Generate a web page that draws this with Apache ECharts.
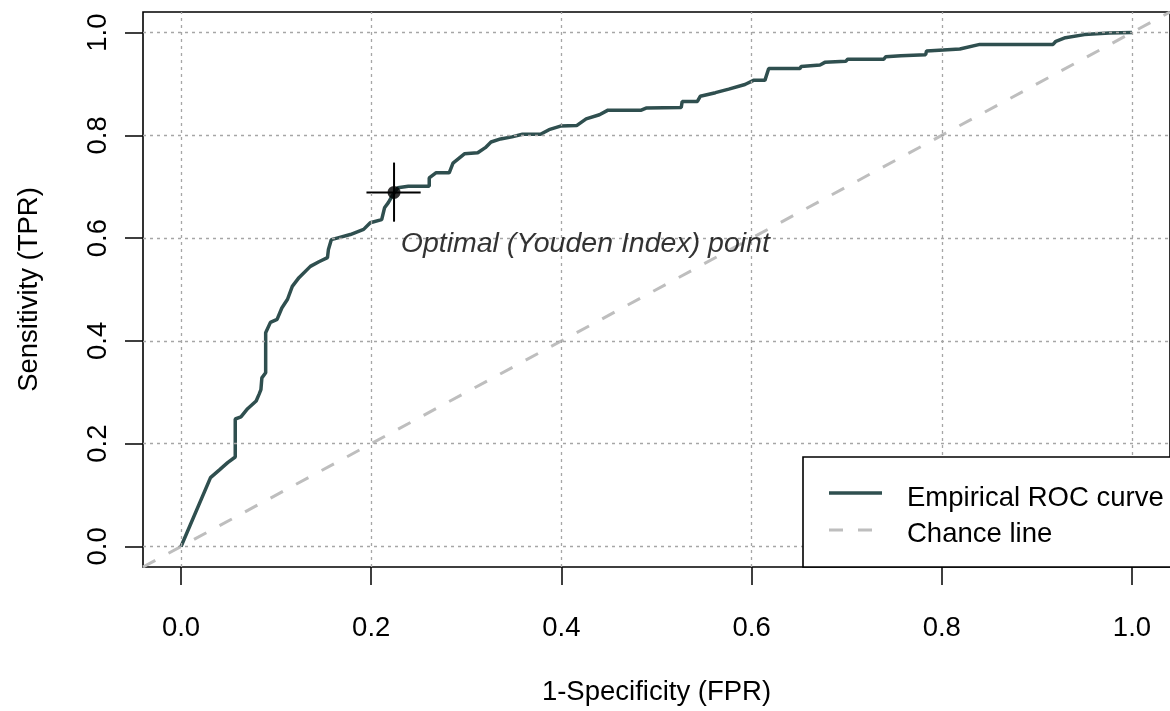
<!DOCTYPE html>
<html><head><meta charset="utf-8">
<script src="https://cdn.jsdelivr.net/npm/echarts@6/dist/echarts.min.js"></script>
<style>html,body{margin:0;padding:0;background:#fff}#c{width:1170px;height:711px}</style>
</head><body><div id="c"></div>
<script>
// ---- data ----
const fpr = [0, 0.031, 0.041, 0.049, 0.057, 0.057, 0.063, 0.070, 0.079, 0.082, 0.084, 0.085, 0.089, 0.089, 0.094, 0.101, 0.106, 0.112, 0.117, 0.124, 0.136, 0.145, 0.154, 0.155, 0.158, 0.166, 0.178, 0.192, 0.199, 0.211, 0.214, 0.218, 0.223, 0.228, 0.239, 0.261, 0.261, 0.268, 0.282, 0.286, 0.298, 0.312, 0.320, 0.326, 0.336, 0.348, 0.359, 0.378, 0.387, 0.399, 0.416, 0.426, 0.440, 0.449, 0.484, 0.489, 0.526, 0.527, 0.543, 0.546, 0.562, 0.576, 0.593, 0.602, 0.614, 0.618, 0.651, 0.652, 0.672, 0.677, 0.699, 0.701, 0.739, 0.741, 0.757, 0.783, 0.784, 0.819, 0.840, 0.917, 0.920, 0.930, 0.950, 0.976, 1.0];
const tpr = [0, 0.134, 0.150, 0.163, 0.174, 0.248, 0.252, 0.268, 0.283, 0.296, 0.305, 0.328, 0.338, 0.416, 0.436, 0.442, 0.464, 0.481, 0.506, 0.523, 0.545, 0.554, 0.562, 0.578, 0.597, 0.601, 0.607, 0.617, 0.630, 0.636, 0.659, 0.669, 0.685, 0.698, 0.701, 0.701, 0.717, 0.727, 0.727, 0.746, 0.764, 0.766, 0.776, 0.787, 0.793, 0.797, 0.802, 0.802, 0.811, 0.818, 0.819, 0.832, 0.840, 0.849, 0.849, 0.853, 0.854, 0.866, 0.866, 0.876, 0.883, 0.890, 0.899, 0.907, 0.907, 0.930, 0.930, 0.934, 0.937, 0.942, 0.944, 0.948, 0.948, 0.953, 0.955, 0.957, 0.964, 0.968, 0.977, 0.977, 0.983, 0.990, 0.996, 0.999, 1.0];
const tickValues = [0, 0.2, 0.4, 0.6, 0.8, 1.0];
const axisMin = -0.04;
const axisMax = 1.04;
const chanceLine = [[-0.04, -0.04], [1.04, 1.04]];
const optimalPoint = [0.224, 0.689];
const optimalFprBar = [0.195, 0.252];
const optimalTprBar = [0.632, 0.747];
const annotationAnchor = [0.2305, 0.589];
const annotationText = 'Optimal (Youden Index) point';
const xTitle = '1-Specificity (FPR)';
const yTitle = 'Sensitivity (TPR)';
const legendNames = ['Empirical ROC curve', 'Chance line'];

// ---- chart ----
const FONT = 'Liberation Sans, Arial, sans-serif';
const FS = 27.5;
const rocData = fpr.map((v, i) => [v, tpr[i]]);
const chart = echarts.init(document.getElementById('c'), null, {renderer: 'canvas'});

const gridMarks = tickValues.map(v => ({xAxis: v})).concat(tickValues.map(v => ({yAxis: v})));

chart.setOption({
  animation: false,
  backgroundColor: '#fff',
  grid: {left: 143, top: 12, right: -8, bottom: 144, show: true, borderColor: '#000', borderWidth: 1.6, backgroundColor: 'transparent'},
  xAxis: {
    type: 'value', min: axisMin, max: axisMax,
    axisLine: {show: false, onZero: false},
    axisTick: {show: true, inside: false, customValues: tickValues, length: 18, lineStyle: {color: '#000', width: 1.5}},
    axisLabel: {customValues: tickValues, formatter: v => v.toFixed(1), fontSize: FS, color: '#000', fontFamily: FONT, margin: 47},
    splitLine: {show: false},
    name: xTitle, nameLocation: 'middle', nameGap: 111,
    nameTextStyle: {fontSize: FS, color: '#000', fontFamily: FONT}
  },
  yAxis: {
    type: 'value', min: axisMin, max: axisMax,
    axisLine: {show: false, onZero: false},
    axisTick: {show: true, inside: false, customValues: tickValues, length: 18, lineStyle: {color: '#000', width: 1.5}},
    axisLabel: {customValues: tickValues, formatter: v => v.toFixed(1), fontSize: FS, color: '#000', fontFamily: FONT, margin: 31, rotate: 90},
    splitLine: {show: false},
    name: yTitle, nameLocation: 'middle', nameGap: 100,
    nameTextStyle: {fontSize: FS, color: '#000', fontFamily: FONT}
  },
  series: [
    {
      name: 'gridlines', type: 'line', data: chanceLine, symbol: 'none', silent: true,
      lineStyle: {opacity: 0, width: 0}, z: 1,
      markLine: {
        silent: true, symbol: 'none', label: {show: false},
        lineStyle: {color: '#a6a6a6', type: [3, 4], width: 1.3},
        data: gridMarks
      }
    },
    {
      name: legendNames[1], type: 'line', data: chanceLine, symbol: 'none', clip: true,
      lineStyle: {color: '#BEBEBE', width: 3, type: [14, 15]}, z: 2
    },
    {
      name: legendNames[0], type: 'line', data: rocData, symbol: 'none',
      lineStyle: {color: '#2F4F4F', width: 3.5}, z: 3
    },
    {
      name: 'fprBar', type: 'line', symbol: 'none',
      data: optimalFprBar.map(v => [v, optimalPoint[1]]),
      lineStyle: {color: '#000', width: 2}, z: 4
    },
    {
      name: 'tprBar', type: 'line', symbol: 'none',
      data: optimalTprBar.map(v => [optimalPoint[0], v]),
      lineStyle: {color: '#000', width: 2}, z: 4
    },
    {
      name: 'optimal', type: 'scatter', data: [optimalPoint], symbol: 'circle', symbolSize: 13,
      itemStyle: {color: '#000'}, z: 5
    },
    {
      name: 'annotation', type: 'scatter', data: [annotationAnchor], symbolSize: 1,
      itemStyle: {color: 'rgba(0,0,0,0)'}, z: 5,
      label: {show: true, position: 'right', distance: 0, formatter: annotationText,
        fontSize: 28.5, fontStyle: 'italic', color: '#000', fontFamily: FONT, verticalAlign: 'middle'}
    }
  ]
});

// legend drawn at the bottom-right corner of the plot box (like R's legend("bottomright"))
const corner = chart.convertToPixel({gridIndex: 0}, [axisMax, axisMin]);
const lx = 803, ly = corner[1] - 110;
chart.setOption({
  graphic: [
    {type: 'rect', z: 100, shape: {x: lx, y: ly, width: 420, height: corner[1] - ly},
      style: {fill: '#fff', stroke: '#000', lineWidth: 1.6}},
    {type: 'line', z: 101, shape: {x1: lx + 26, y1: ly + 36, x2: lx + 79, y2: ly + 36},
      style: {stroke: '#2F4F4F', lineWidth: 3.5}},
    {type: 'line', z: 101, shape: {x1: lx + 26, y1: ly + 73, x2: lx + 79, y2: ly + 73},
      style: {stroke: '#BEBEBE', lineWidth: 3, lineDash: [14, 15]}},
    {type: 'text', z: 101, x: lx + 104, y: ly + 41,
      style: {text: legendNames[0], fontSize: FS, fontFamily: FONT, fill: '#000', textVerticalAlign: 'middle'}},
    {type: 'text', z: 101, x: lx + 104, y: ly + 77,
      style: {text: legendNames[1], fontSize: FS, fontFamily: FONT, fill: '#000', textVerticalAlign: 'middle'}}
  ]
});
</script>
</body></html>
